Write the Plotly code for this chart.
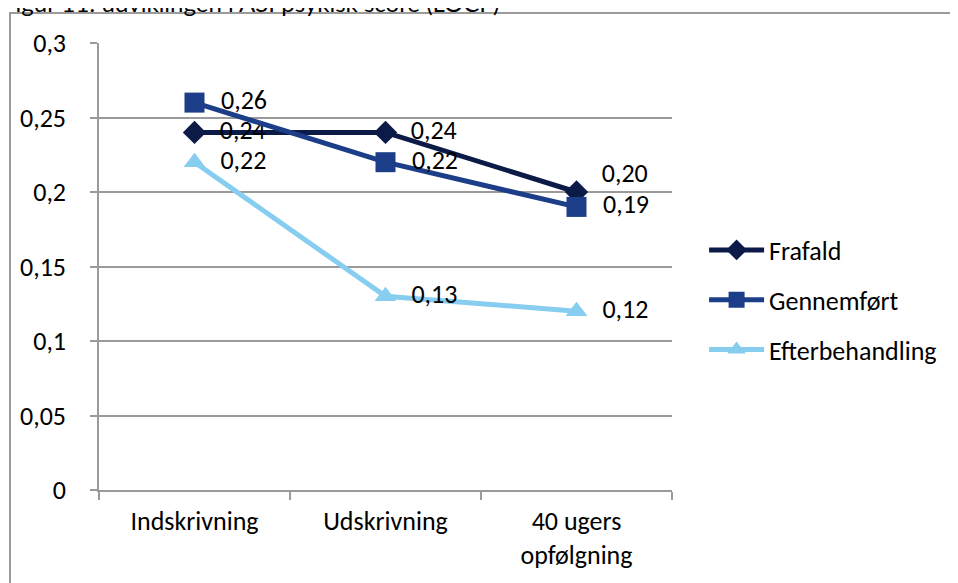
import plotly.graph_objects as go

categories = ["Indskrivning", "Udskrivning", "40 ugers<br>opfølgning"]
frafald = [0.24, 0.24, 0.20]
gennemfort = [0.26, 0.22, 0.19]
efterbehandling = [0.22, 0.13, 0.12]
yticks = [0, 0.05, 0.1, 0.15, 0.2, 0.25, 0.3]
title_text = "Figur 11: udviklingen i ASI psykisk score (LOCF)"

FONT = "Carlito, Calibri, Lato, sans-serif"
FS = 26


def fmt(v):
    return f"{v:.2f}".replace(".", ",")


series = [
    ("Frafald", frafald, "#0c1a48", "diamond", 18, [False, False, True]),
    ("Gennemført", gennemfort, "#1c3d87", "square", 20, [False] * 3),
    ("Efterbehandling", efterbehandling, "#86cdf0", "triangle-up", 19, [False] * 3),
]

fig = go.Figure()
for name, vals, color, sym, msize, raise_lbl in series:
    texts = [fmt(v) + ("<br> " if r else "") for v, r in zip(vals, raise_lbl)]
    fig.add_trace(go.Scatter(
        x=categories, y=vals, name=name, mode="lines+markers+text",
        line=dict(color=color, width=5),
        marker=dict(symbol=sym, size=msize, color=color),
        text=texts, texttemplate="\u2002%{text}", textposition="middle right",
        textfont=dict(family=FONT, size=FS, color="black"),
        legendgroup=name, cliponaxis=False,
    ))

fig.update_layout(
    width=950, height=575,
    margin=dict(l=91, r=286, t=35, b=93, autoexpand=False),
    paper_bgcolor="white", plot_bgcolor="white",
    separators=",.",
    font=dict(family=FONT, size=FS, color="black"),
    showlegend=True,
    legend=dict(x=1.056, y=0.425, xanchor="left", yanchor="middle",
                font=dict(family=FONT, size=FS, color="black"),
                tracegroupgap=13, itemwidth=55, bgcolor="rgba(0,0,0,0)"),
    xaxis=dict(type="category", range=[-0.5, 2.5], tickson="boundaries", ticks="outside", ticklen=8,
               tickcolor="#9a9a9a", tickwidth=1.5, showline=True, linecolor="#9a9a9a",
               linewidth=1.5, showgrid=False, zeroline=False, automargin=False,
               ticklabelstandoff=7,
               tickfont=dict(family=FONT, size=FS, color="black")),
    yaxis=dict(range=[0, 0.3], tickvals=yticks, ticks="outside", ticklen=7,
               tickcolor="#9a9a9a", tickwidth=1.5, showline=True, linecolor="#9a9a9a",
               linewidth=1.5, showgrid=True, gridcolor="#9a9a9a", gridwidth=1.5,
               zeroline=False, ticklabelstandoff=19, automargin=False,
               tickfont=dict(family=FONT, size=FS, color="black")),
    shapes=[dict(type="rect", xref="paper", yref="paper",
                 x0=(10 - 99) / 573, x1=(965 - 99) / 573,
                 y0=(490 - 590) / 447, y1=(490 - 13) / 447,
                 line=dict(color="#9a9a9a", width=2), layer="below")],
    annotations=[dict(text=title_text, xref="paper", yref="paper",
                      x=(0 - 99) / 573, y=(490 - 19) / 447, xanchor="left", yanchor="bottom",
                      showarrow=False, font=dict(family="Lato, sans-serif", size=24, color="black"))],
)

fig.write_html("out.html")
